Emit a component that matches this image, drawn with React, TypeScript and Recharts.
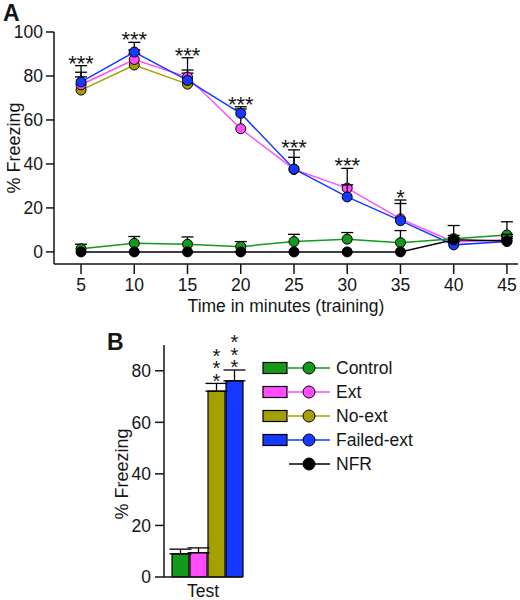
import React from "react";
import { LineChart, Line, XAxis, YAxis, ErrorBar, LabelList, BarChart, Bar } from "recharts";

const FONT = '"Liberation Sans", Arial, Helvetica, sans-serif';
const INK = "#151515";

const GREEN = "#13991b";
const PINK = "#ff4cff";
const OLIVE = "#a59f00";
const BLUE = "#1638ff";
const BLACK = "#000000";

// panel A: training session, 5-min bins
const minutes = [5, 10, 15, 20, 25, 30, 35, 40, 45];
const controlMean = [1.4, 3.9, 3.5, 2.4, 4.7, 5.8, 4.2, 6.0, 7.7];
const controlErr = [2.1, 3.1, 3.3, 2.3, 3.3, 3.0, 5.5, 1.5, 6.0];
const extMean = [76, 87.5, 79.5, 56, 37.5, 29, 15, 4.5, 5.5];
const extErr = [8.7, 4.3, 8.8, 9, 5.5, 9, 8.6, 2, 1.5];
const noExtMean = [73.6, 85, 76.3];
const noExtErr = [6, 5, 5];
const failedMean = [77.3, 90.9, 78, 63, 37.7, 25, 14.2, 3.2, 4.7];
const failedErr = [4.4, 4.4, 4.7, 3, 8.7, 5.5, 7.8, 1.5, 1.5];
const nfrMean = [0, 0, 0, 0, 0, 0, 0, 5.5, 5];
const nfrErr = [0, 0, 0, 0, 0, 0, 0, 6.5, 3];
const trainingStars = ["***", "***", "***", "***", "***", "***", "*", "", ""];
const trainingYTicks = [0, 20, 40, 60, 80, 100];

// panel B: test session
const testGroups = ["Control", "Ext", "No-ext", "Failed-ext"];
const testMean = [9.0, 9.4, 72.1, 76.1];
const testErr = [1.8, 1.9, 3.0, 4.2];
const testStars = ["", "", "***", "***"];
const testYTicks = [0, 20, 40, 60, 80];

const legendNames = ["Control", "Ext", "No-ext", "Failed-ext", "NFR"];
const legendColors = [GREEN, PINK, OLIVE, BLUE, BLACK];
const testColors = [GREEN, PINK, OLIVE, BLUE];

// draw order: later ones on top
const seriesA = [
  { key: "noExt", mean: noExtMean, err: noExtErr, color: OLIVE },
  { key: "ext", mean: extMean, err: extErr, color: PINK },
  { key: "failed", mean: failedMean, err: failedErr, color: BLUE },
  { key: "control", mean: controlMean, err: controlErr, color: GREEN },
  { key: "nfr", mean: nfrMean, err: nfrErr, color: BLACK },
];

const trainingRows = minutes.map((m, i) => {
  const row: Record<string, unknown> = { minute: m, stars: trainingStars[i] };
  let top = -Infinity;
  seriesA.forEach((s) => {
    if (s.mean[i] !== undefined) {
      row[s.key] = s.mean[i];
      row[s.key + "Err"] = s.err[i];
      top = Math.max(top, s.mean[i] + s.err[i]);
    }
  });
  row.starTop = top;
  return row;
});

const testRow: Record<string, unknown> = { name: "Test" };
testGroups.forEach((_, i) => {
  testRow["g" + i] = testMean[i];
  testRow["g" + i + "Err"] = [0, testErr[i]];
});
const testRows = [testRow];

const FS = 17.5;
const tickStyle = { fill: INK, fontSize: FS, fontFamily: FONT };
const axisStroke = { stroke: INK, strokeWidth: 1.5 };

// pixels per data unit, taken from the line's own projected points
function pxPerUnit(points: any[]) {
  let best = 0;
  let k = 0;
  const pts = (points || []).filter((q) => typeof q?.value === "number" && typeof q?.y === "number");
  for (let a = 0; a < pts.length; a++) {
    for (let b = a + 1; b < pts.length; b++) {
      const dv = pts[a].value - pts[b].value;
      if (Math.abs(dv) > best) {
        best = Math.abs(dv);
        k = (pts[b].y - pts[a].y) / dv;
      }
    }
  }
  return k;
}

// marker with an upper-only error bar drawn underneath it
function makeDot(color: string, errKey: string) {
  return (p: any) => {
    const { cx, cy, payload, points, index } = p;
    if (cx == null || cy == null || payload == null) return <g key={index} />;
    const err = Number(payload[errKey] ?? 0);
    const top = cy - err * pxPerUnit(points);
    return (
      <g key={index}>
        {err > 0 && (
          <g stroke="#000" strokeWidth={1.3}>
            <line x1={cx} x2={cx} y1={cy} y2={top} />
            <line x1={cx - 6} x2={cx + 6} y1={top} y2={top} />
          </g>
        )}
        <circle cx={cx} cy={cy} r={5} fill={color} stroke="#000" strokeWidth={1} />
      </g>
    );
  };
}

function TrainingStars(props: any) {
  const vb = props.viewBox || {};
  const x = props.x ?? vb.x;
  const y = props.y ?? vb.y;
  if (!props.value || x == null || y == null) return null;
  return (
    <text x={x} y={y + 5} textAnchor="middle" fontSize={22} fontFamily={FONT} fill={INK}>
      {props.value}
    </text>
  );
}

function makeBarStars(i: number) {
  return (props: any) => {
    const vb = props.viewBox || props;
    const { x, y, width, height } = vb;
    if (!testStars[i] || x == null) return null;
    const perUnit = Math.abs(height) / testMean[i];
    const capY = y - testErr[i] * perUnit;
    const n = testStars[i].length;
    const cx = x + width / 2;
    const step = 10.5;
    // vertical column of stars, bottom one ~11px above the cap
    return (
      <text
        x={cx}
        y={capY - 11 - (n - 1) * step - 6.6}
        fontSize={20}
        fontFamily={FONT}
        fill={INK}
        style={{ writingMode: "vertical-rl", textOrientation: "upright", letterSpacing: step - 20 } as any}
      >
        {testStars[i]}
      </text>
    );
  };
}

function Legend() {
  return (
    <g fontFamily={FONT} fontSize={FS} fill={INK}>
      {legendNames.map((name, i) => {
        const cy = 368 + i * 24;
        const c = legendColors[i];
        return (
          <g key={name}>
            {i < 4 && (
              <rect x={263} y={cy - 5.5} width={24} height={11} fill={c} stroke="#000" strokeWidth={1.2} />
            )}
            <line x1={i < 4 ? 287 : 289} x2={330} y1={cy} y2={cy} stroke={c} strokeWidth={1.5} />
            <circle cx={309} cy={cy} r={6} fill={c} stroke="#000" strokeWidth={1} />
            <text x={336} y={cy + 6}>{name}</text>
          </g>
        );
      })}
    </g>
  );
}

export default function App() {
  return (
    <div
      style={{
        position: "absolute",
        left: 0,
        top: 0,
        width: 520,
        height: 600,
        background: "#fff",
        fontFamily: FONT,
      }}
    >
      <div style={{ position: "absolute", left: 0, top: 0 }}>
        <LineChart width={520} height={320} data={trainingRows} margin={{ top: 32, right: 2, bottom: 0, left: 0 }}>
          <XAxis
            dataKey="minute"
            type="number"
            domain={[2.46, 46.04]}
            allowDataOverflow
            ticks={minutes}
            tick={tickStyle}
            tickSize={10}
            tickMargin={5}
            axisLine={axisStroke}
            tickLine={axisStroke}
            height={56}
            label={{
              value: "Time in minutes (training)",
              position: "insideBottom",
              offset: 8,
              style: { fill: INK, fontSize: FS, fontFamily: FONT },
            }}
          />
          <YAxis
            type="number"
            domain={[-5.5, 100]}
            allowDataOverflow
            ticks={trainingYTicks}
            tick={tickStyle}
            tickSize={8}
            tickMargin={3}
            axisLine={axisStroke}
            tickLine={axisStroke}
            width={54}
          />
          {seriesA.map((s) => (
            <Line
              key={s.key}
              dataKey={s.key}
              stroke={s.color}
              strokeWidth={1.5}
              dot={makeDot(s.color, s.key + "Err")}
              activeDot={false}
              isAnimationActive={false}
            />
          ))}
          <Line dataKey="starTop" stroke="none" dot={false} activeDot={false} isAnimationActive={false}>
            <LabelList dataKey="stars" content={TrainingStars} />
          </Line>
        </LineChart>
      </div>

      <div style={{ position: "absolute", left: 0, top: 330 }}>
        <BarChart
          width={260}
          height={270}
          data={testRows}
          margin={{ top: 15, right: 18, bottom: 0, left: 0 }}
          barCategoryGap={0}
          barGap={1}
        >
          <XAxis
            dataKey="name"
            tick={{ ...tickStyle, dx: -4 }}
            tickLine={false}
            tickSize={5}
            tickMargin={3}
            axisLine={axisStroke}
            padding={{ left: 8, right: 0 }}
            height={23}
          />
          <YAxis
            type="number"
            domain={[0, 90]}
            ticks={testYTicks}
            tick={tickStyle}
            tickSize={9}
            tickMargin={4}
            axisLine={axisStroke}
            tickLine={axisStroke}
            width={164}
          />
          {testGroups.map((g, i) => (
            <Bar
              key={g}
              dataKey={"g" + i}
              fill={testColors[i]}
              stroke="#000"
              strokeWidth={1.2}
              isAnimationActive={false}
            >
              <ErrorBar dataKey={"g" + i + "Err"} width={11} stroke="#000" strokeWidth={1.3} direction="y" />
              <LabelList dataKey={"g" + i} content={makeBarStars(i)} />
            </Bar>
          ))}
        </BarChart>
      </div>

      <svg
        width={520}
        height={600}
        style={{ position: "absolute", left: 0, top: 0, pointerEvents: "none" }}
      >
        <text x={3} y={21} fontFamily={FONT} fontWeight="bold" fontSize={23} fill={INK}>
          A
        </text>
        <text x={107} y={350} fontFamily={FONT} fontWeight="bold" fontSize={23} fill={INK}>
          B
        </text>
        <text
          transform="translate(13.5,148) rotate(-90)"
          dy="0.36em"
          textAnchor="middle"
          fontFamily={FONT}
          fontSize={18}
          fill={INK}
        >
          % Freezing
        </text>
        <text
          transform="translate(122,474) rotate(-90)"
          dy="0.36em"
          textAnchor="middle"
          fontFamily={FONT}
          fontSize={18}
          fill={INK}
        >
          % Freezing
        </text>
        <Legend />
      </svg>
    </div>
  );
}
